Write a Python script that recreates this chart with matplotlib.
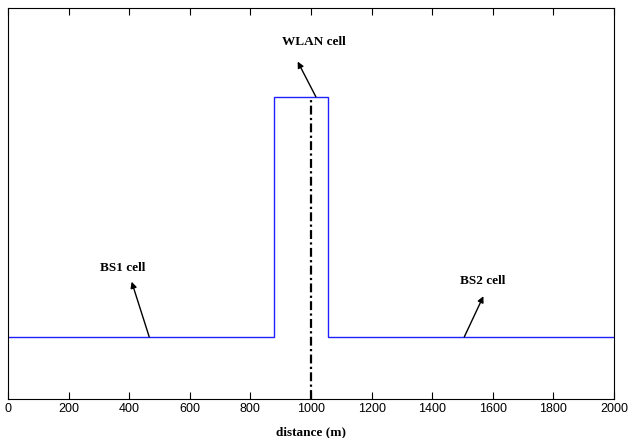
import matplotlib
matplotlib.use("Agg")
import matplotlib.pyplot as plt

# Data
cell_edges = [0, 879, 1056, 2000]
cell_levels = [0.159, 0.773, 0.159]
wlan_center = 1000
xticks = [0, 200, 400, 600, 800, 1000, 1200, 1400, 1600, 1800, 2000]
annot_labels = ["WLAN cell", "BS1 cell", "BS2 cell"]
annot_tail_x = [1016, 466, 1506]
annot_tail_y = [0.773, 0.159, 0.159]
annot_text_x = [1010, 380, 1568]
annot_text_y = [0.913, 0.335, 0.302]
annot_head_x = [956, 408, 1569]
annot_head_y = [0.863, 0.300, 0.263]

fig = plt.figure(figsize=(6.29, 4.38), dpi=100)
ax = fig.add_axes([8/629, 39/438, 606/629, 391/438])

ax.stairs(cell_levels, cell_edges, baseline=None, color="#2020ff", lw=1.0)
ax.plot([wlan_center, wlan_center], [0, cell_levels[1]], color="black",
        lw=1.6, linestyle=(0, (4, 1.5, 1, 1.5)))

for lab, tx, ty, hx, hy, px, py in zip(annot_labels, annot_text_x, annot_text_y,
                                       annot_head_x, annot_head_y,
                                       annot_tail_x, annot_tail_y):
    ax.annotate("", xy=(hx, hy), xytext=(px, py),
                arrowprops=dict(arrowstyle="-|>", color="black", lw=1.0,
                                mutation_scale=9, shrinkA=0, shrinkB=0))
    ax.text(tx, ty, lab, ha="center", va="center", fontsize=9.5,
            fontweight="bold", family="Liberation Serif")

ax.set_xlim(0, 2000)
ax.set_ylim(0, 1)
ax.set_xticks(xticks)
ax.set_xticklabels([str(t) for t in xticks], family="Liberation Sans", fontsize=9)
ax.set_yticks([])
ax.tick_params(axis="x", direction="in", top=True, length=5, width=0.8, pad=3)
for s in ax.spines.values():
    s.set_linewidth(0.8)
ax.set_xlabel("distance (m)", family="Liberation Serif", fontweight="bold",
              fontsize=9.5)
ax.xaxis.set_label_coords(0.5, -0.086)
ax.xaxis.label.set_va("center")

fig.savefig("out.png", dpi=100)
